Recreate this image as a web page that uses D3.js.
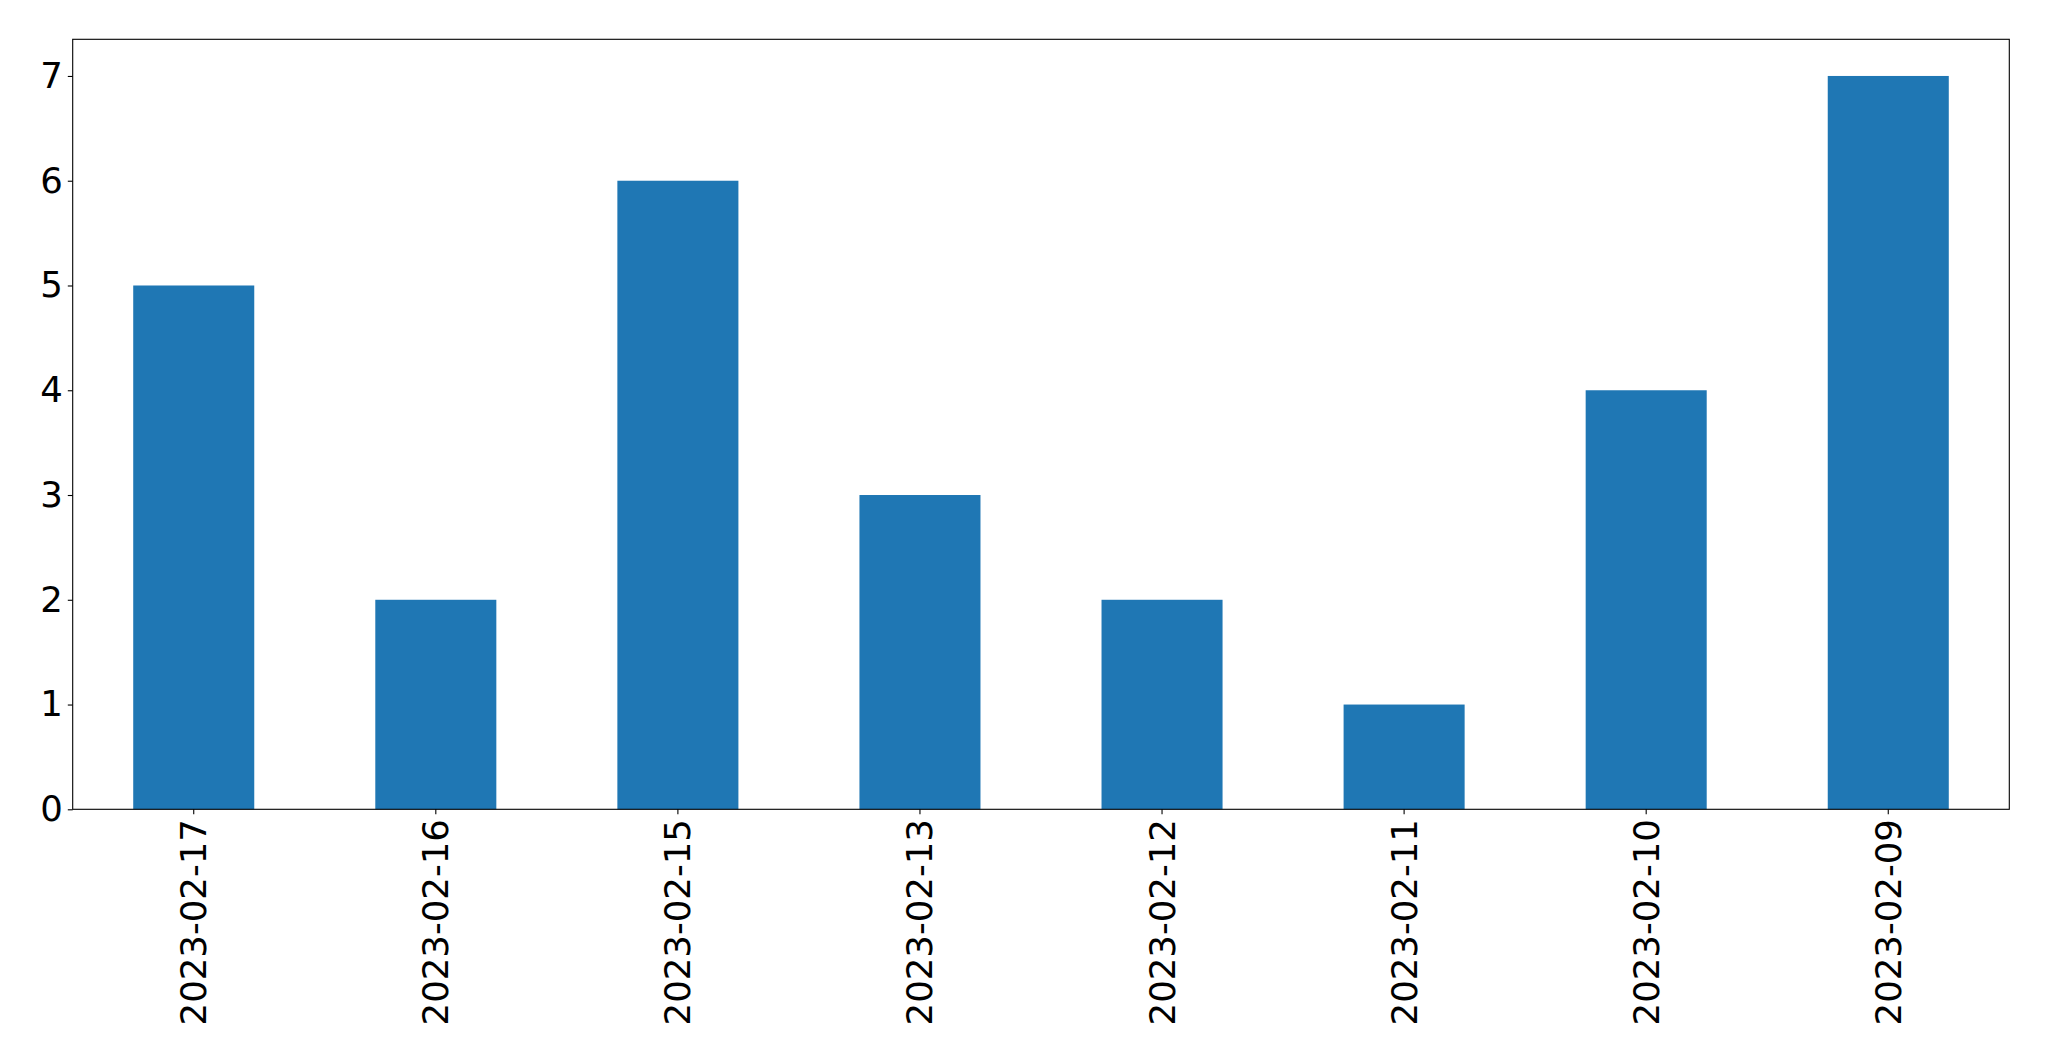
<!DOCTYPE html>
<html><head><meta charset="utf-8">
<script src="https://cdn.jsdelivr.net/npm/d3@7"></script>
<style>html,body{margin:0;padding:0;background:#fff;}svg{display:block;}</style>
</head><body>
<svg id="chart" width="2049" height="1061"></svg>
<script>
const categories = ["2023-02-17","2023-02-16","2023-02-15","2023-02-13","2023-02-12","2023-02-11","2023-02-10","2023-02-09"];
const values = [5,2,6,3,2,1,4,7];
const yTicks = [0,1,2,3,4,5,6,7];

const W = 2049, H = 1061;
const margin = {left: 72.7, right: W - 2009.3, top: 39.3, bottom: H - 809.3};
const svg = d3.select("#chart");
const iw = W - margin.left - margin.right, ih = H - margin.top - margin.bottom;
const g = svg.append("g").attr("transform", `translate(${margin.left},${margin.top})`);

const x = d3.scaleBand().domain(categories).range([0, iw]).paddingInner(0.5).paddingOuter(0.25);
const y = d3.scaleLinear().domain([0, 7.35]).range([ih, 0]);

g.selectAll("rect.bar").data(values).enter().append("rect")
  .attr("class","bar")
  .attr("x", (d,i) => x(categories[i]))
  .attr("width", x.bandwidth())
  .attr("y", d => y(d))
  .attr("height", d => y(0) - y(d))
  .attr("fill", "#1f77b4");

const font = "'DejaVu Sans', sans-serif";
const fs = "35.5px";

const yAxis = g.append("g").call(d3.axisLeft(y).tickValues(yTicks).tickFormat(d3.format("d")).tickSize(4.9).tickPadding(4.9));
yAxis.select(".domain").remove();
yAxis.selectAll("text").style("font-family", font).style("font-size", fs).attr("fill","#000");
yAxis.selectAll("line").attr("stroke","#000").attr("stroke-width",1.1);

const xAxis = g.append("g").attr("transform", `translate(0,${ih})`).call(d3.axisBottom(x).tickSize(4.9).tickPadding(0));
xAxis.select(".domain").remove();
xAxis.selectAll("line").attr("stroke","#000").attr("stroke-width",1.1);
xAxis.selectAll("text")
  .style("font-family", font).style("font-size", fs).attr("fill","#000")
  .attr("y", 0).attr("dy", null)
  .attr("transform", "translate(0,9.8) rotate(-90)")
  .attr("text-anchor", "end")
  .attr("dominant-baseline", "central")
  .attr("x", 0);

g.append("rect").attr("x",0).attr("y",0).attr("width",iw).attr("height",ih)
  .attr("fill","none").attr("stroke","#000").attr("stroke-width",1.1);
</script>
</body></html>
